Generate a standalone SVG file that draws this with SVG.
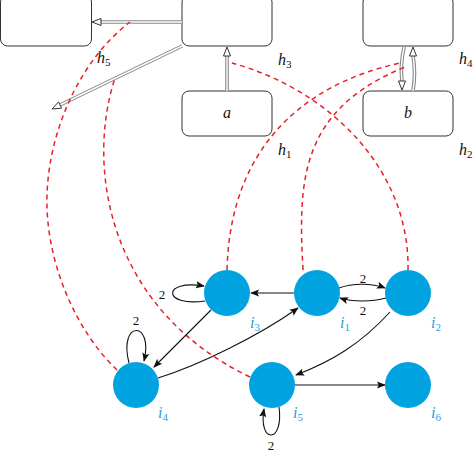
<svg xmlns="http://www.w3.org/2000/svg" width="474" height="454" viewBox="0 0 474 454">
<style>
.box{fill:#fff;stroke:#333;stroke-width:1}
.dbo{fill:none;stroke:#888;stroke-width:3.6}
.dbi{fill:none;stroke:#fff;stroke-width:1.4}
.oh{fill:#fff;stroke:#333;stroke-width:1}
.red{fill:none;stroke:#e8202a;stroke-width:1.5;stroke-dasharray:5,4}
.edge{fill:none;stroke:#111;stroke-width:1.1;marker-end:url(#ah)}
.node{fill:#00a3e0}
.t{font-family:'Liberation Serif','DejaVu Serif',serif;font-style:italic;font-size:16px;fill:#111}
.il{font-family:'Liberation Serif','DejaVu Serif',serif;font-style:italic;font-size:16px;fill:#2aa0da}
.sub{font-size:11px;font-style:normal}
.w{font-family:'Liberation Serif','DejaVu Serif',serif;font-size:13px;fill:#111;text-anchor:middle}
</style>
<defs>
<marker id="ah" viewBox="0 0 10 10" refX="9" refY="5" markerWidth="9" markerHeight="9" markerUnits="userSpaceOnUse" orient="auto">
<path d="M0,1 L10,5 L0,9 L2,5 Z" fill="#111"/>
</marker>
</defs>
<rect width="474" height="454" fill="#fff"/>
<g id="box-tl"><rect class="box" x="0.5" y="-5" width="91" height="51" rx="7"/></g>
<g id="box-tm"><rect class="box" x="182" y="-5" width="90" height="51" rx="7"/></g>
<g id="box-a"><rect class="box" x="182" y="91" width="90" height="45" rx="7"/><text class="t" x="227" y="118" text-anchor="middle">a</text></g>
<g id="box-tr"><rect class="box" x="363" y="-5" width="90" height="51" rx="7"/></g>
<g id="box-b"><rect class="box" x="363" y="91" width="90" height="45" rx="7"/><text class="t" x="408" y="118" text-anchor="middle">b</text></g>
<g id="double-arrows">
<path class="dbo" d="M182,22 L101,22"/><path class="dbi" d="M182,22 L101,22"/>
<polygon class="oh" points="92,22 101,18.5 101,25.5"/>
<path class="dbo" d="M182,46 L60,105"/><path class="dbi" d="M182,46 L60,105"/>
<polygon class="oh" points="52,109 61.6,108.2 58.6,101.9"/>
<path class="dbo" d="M227,91 L227,56"/><path class="dbi" d="M227,91 L227,56"/>
<polygon class="oh" points="227,47 223.5,56 230.5,56"/>
<path class="dbo" d="M404,47 Q400,66 402,81"/><path class="dbi" d="M404,47 Q400,66 402,81"/>
<polygon class="oh" points="402,90 398.5,81 405.5,81"/>
<path class="dbo" d="M413,91 Q416,72 413,56"/><path class="dbi" d="M413,91 Q416,72 413,56"/>
<polygon class="oh" points="413,47 409.5,56 416.5,56"/>
</g>
<g id="h-labels">
<text class="t" x="97" y="63">h<tspan class="sub" dy="3">5</tspan></text>
<text class="t" x="278" y="65">h<tspan class="sub" dy="3">3</tspan></text>
<text class="t" x="459" y="64">h<tspan class="sub" dy="3">4</tspan></text>
<text class="t" x="278" y="155">h<tspan class="sub" dy="3">1</tspan></text>
<text class="t" x="459" y="155">h<tspan class="sub" dy="3">2</tspan></text>
</g>
<g id="mappings">
<path class="red" d="M227,270 C230,150 300,85 400,63"/>
<path class="red" d="M303,270 C298,180 300,110 405,67"/>
<path class="red" d="M408,270 C410,170 330,90 232,63"/>
<path class="red" d="M117,370 C75,330 45,260 47,195 C49,130 80,60 130,22"/>
<path class="red" d="M250,377 C110,310 85,170 115,78"/>
</g>
<g id="connectors">
<path class="edge" d="M294,293 L251,293"/>
<path class="edge" d="M339,288 C352,283 372,283 385,288"/>
<path class="edge" d="M386,298 C372,302 352,302 340,298"/>
<path class="edge" d="M390,312 C360,345 330,362 296,375"/>
<path class="edge" d="M211,310 L154,367"/>
<path class="edge" d="M158,378 C200,365 260,335 298,308"/>
<path class="edge" d="M295,385 L385,385"/>
<path class="edge" d="M205,301 C162,307 162,279 204,286"/>
<path class="edge" d="M129,363 C118,320 154,320 144,361"/>
<path class="edge" d="M279,407 C284,444 258,444 264,409"/>
<text class="w" x="363" y="283">2</text>
<text class="w" x="363" y="315">2</text>
<text class="w" x="162" y="299">2</text>
<text class="w" x="136" y="325">2</text>
<text class="w" x="271" y="450">2</text>
</g>
<g id="i3"><circle class="node" cx="227" cy="293" r="23"/><text class="il" x="250" y="328">i<tspan class="sub" dy="3">3</tspan></text></g>
<g id="i1"><circle class="node" cx="317" cy="293" r="23"/><text class="il" x="340" y="328">i<tspan class="sub" dy="3">1</tspan></text></g>
<g id="i2"><circle class="node" cx="408" cy="293" r="23"/><text class="il" x="431" y="328">i<tspan class="sub" dy="3">2</tspan></text></g>
<g id="i4"><circle class="node" cx="136" cy="385" r="23"/><text class="il" x="158" y="418">i<tspan class="sub" dy="3">4</tspan></text></g>
<g id="i5"><circle class="node" cx="272" cy="385" r="23"/><text class="il" x="293" y="418">i<tspan class="sub" dy="3">5</tspan></text></g>
<g id="i6"><circle class="node" cx="408" cy="385" r="23"/><text class="il" x="431" y="418">i<tspan class="sub" dy="3">6</tspan></text></g>
</svg>
